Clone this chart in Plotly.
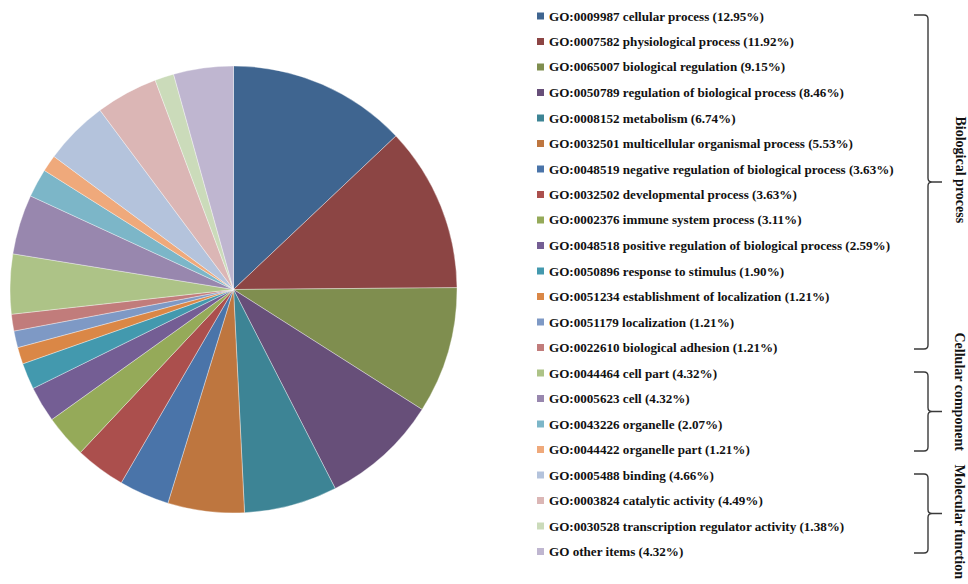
import plotly.graph_objects as go

# GO annotation categories, share of annotated genes (%) and slice colours
go_ids = [
    "GO:0009987", "GO:0007582", "GO:0065007", "GO:0050789", "GO:0008152",
    "GO:0032501", "GO:0048519", "GO:0032502", "GO:0002376", "GO:0048518",
    "GO:0050896", "GO:0051234", "GO:0051179", "GO:0022610",
    "GO:0044464", "GO:0005623", "GO:0043226", "GO:0044422",
    "GO:0005488", "GO:0003824", "GO:0030528", "GO",
]
terms = [
    "cellular process", "physiological process", "biological regulation",
    "regulation of biological process", "metabolism",
    "multicellular organismal process",
    "negative regulation of biological process", "developmental process",
    "immune system process", "positive regulation of biological process",
    "response to stimulus", "establishment of localization", "localization",
    "biological adhesion",
    "cell part", "cell", "organelle", "organelle part",
    "binding", "catalytic activity", "transcription regulator activity",
    "other items",
]
percents = [
    12.95, 11.92, 9.15, 8.46, 6.74, 5.53, 3.63, 3.63, 3.11, 2.59, 1.90,
    1.21, 1.21, 1.21,
    4.32, 4.32, 2.07, 1.21,
    4.66, 4.49, 1.38, 4.32,
]
colors = [
    "#3F6590", "#8C4544", "#7F8E4F", "#674F79", "#3D8495", "#BE763F",
    "#4A74A9", "#AB4F4D", "#95AA59", "#745E94", "#4399AE", "#DA8746",
    "#7E99C5", "#C17C7B",
    "#ADC387", "#9887AE", "#7CB6C8", "#EFA97B",
    "#B4C3DC", "#DBB6B5", "#CBDBBA", "#BFB6D0",
]
groups = ["Biological process", "Cellular component", "Molecular function"]
group_sizes = [14, 4, 4]

W, H = 968, 584
labels = [f"{g} {t} ({p:.2f}%)" for g, t, p in zip(go_ids, terms, percents)]


def px(x):
    return x / W


def py(y):
    return 1 - y / H


fig = go.Figure(
    go.Pie(
        labels=labels,
        values=percents,
        sort=False,
        direction="clockwise",
        rotation=0,
        marker=dict(colors=colors, line=dict(color="rgba(255,255,255,0.6)", width=0.6)),
        textinfo="none",
        hoverinfo="label",
        showlegend=False,
        domain=dict(x=[px(10), px(457)], y=[py(513), py(66)]),
    )
)

# Hand-laid legend: small square swatch + bold serif label per row
row0, row_step = 16.0, 25.5
shapes, annotations = [], []
label_font = dict(family="Liberation Serif", size=13.1, color="#111111", weight="bold")
for i, (lab, col) in enumerate(zip(labels, colors)):
    yc = row0 + i * row_step
    shapes.append(dict(
        type="rect", xref="paper", yref="paper",
        x0=px(537), x1=px(544), y0=py(yc + 3.5), y1=py(yc - 3.5),
        fillcolor=col, line=dict(width=0),
    ))
    annotations.append(dict(
        x=px(547), y=py(yc), xref="paper", yref="paper",
        text=lab, showarrow=False, xanchor="left", yanchor="middle",
        font=label_font,
    ))


# Curly braces grouping the legend rows, with rotated group names
def brace_path(top, bottom, xl=914, xs=928, xt=942, r=4):
    mid = (top + bottom) / 2
    pts = [
        f"M{px(xl)},{py(top)}",
        f"L{px(xs - r)},{py(top)}",
        f"Q{px(xs)},{py(top)} {px(xs)},{py(top + r)}",
        f"L{px(xs)},{py(mid - r)}",
        f"Q{px(xs)},{py(mid)} {px(xs + r)},{py(mid)}",
        f"L{px(xt)},{py(mid)}",
        f"M{px(xs + r)},{py(mid)}",
        f"Q{px(xs)},{py(mid)} {px(xs)},{py(mid + r)}",
        f"L{px(xs)},{py(bottom - r)}",
        f"Q{px(xs)},{py(bottom)} {px(xs - r)},{py(bottom)}",
        f"L{px(xl)},{py(bottom)}",
    ]
    return " ".join(pts)


group_label_y = [170, 392, 522]
start = 0
for name, size, ly in zip(groups, group_sizes, group_label_y):
    top = row0 + start * row_step - 1
    bottom = row0 + (start + size - 1) * row_step + 1.5
    shapes.append(dict(
        type="path", xref="paper", yref="paper",
        path=brace_path(top, bottom),
        line=dict(color="#3a3a3a", width=1.4),
    ))
    annotations.append(dict(
        x=1.0, y=py(ly), xref="paper", yref="paper",
        text=name, showarrow=False, textangle=90,
        xanchor="right", yanchor="middle", borderpad=0,
        font=dict(family="Liberation Serif", size=14, color="#111111", weight="bold"),
    ))
    start += size

fig.update_layout(
    width=W, height=H,
    margin=dict(l=0, r=0, t=0, b=0),
    paper_bgcolor="white",
    plot_bgcolor="white",
    shapes=shapes,
    annotations=annotations,
)

fig.write_html("out.html")
